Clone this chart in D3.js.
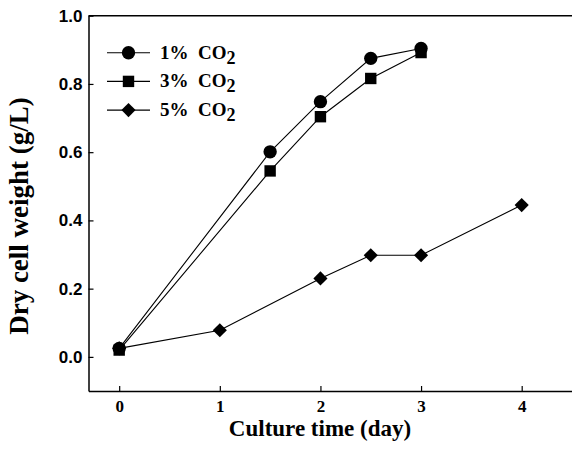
<!DOCTYPE html>
<html>
<head>
<meta charset="utf-8">
<script src="https://cdn.jsdelivr.net/npm/d3@7"></script>
<style>
  body { margin: 0; background: #fff; }
  svg { display: block; }
</style>
</head>
<body>
<div id="chart"></div>
<script>
// data
var days_1 = [0, 1.5, 2, 2.5, 3];
var co2_1 = [0.025, 0.601, 0.748, 0.875, 0.904];
var days_3 = [0, 1.5, 2, 2.5, 3];
var co2_3 = [0.02, 0.545, 0.704, 0.816, 0.892];
var days_5 = [0, 1, 2, 2.5, 3, 4];
var co2_5 = [0.025, 0.078, 0.23, 0.298, 0.298, 0.445];
var seriesNames = ["1% CO", "3% CO", "5% CO"];
var xTicks = [0, 1, 2, 3, 4];
var yTicks = [0.0, 0.2, 0.4, 0.6, 0.8, 1.0];

var margin = { top: 15.7, right: 0, bottom: 70, left: 88.5 };
var width = 572 - margin.left - margin.right;
var height = 461 - margin.top - margin.bottom;

var svg = d3
  .select("#chart")
  .append("svg")
  .attr("width", 572)
  .attr("height", 461);

var g = svg
  .append("g")
  .attr("transform", "translate(" + margin.left + "," + margin.top + ")");

var x = d3.scaleLinear().domain([-0.305, 4.5]).range([0, width]);
var y = d3.scaleLinear().domain([-0.1, 1.0]).range([height, 0]);

// frame: top line, left and bottom axes
g.append("line")
  .attr("x1", 0).attr("x2", width)
  .attr("y1", 0).attr("y2", 0)
  .attr("stroke", "#000").attr("stroke-width", 1.5);

var xAxis = g
  .append("g")
  .attr("transform", "translate(0," + height + ")")
  .call(d3.axisBottom(x).tickValues(xTicks).tickSizeInner(-5).tickSizeOuter(0).tickFormat(d3.format("d")));

xAxis.select(".domain").attr("stroke-width", 1.5);
xAxis.selectAll(".tick line").attr("stroke-width", 1.2);
xAxis
  .selectAll(".tick text")
  .attr("y", 9)
  .attr("dy", "0.71em")
  .style("font-family", "'Liberation Serif', 'Times New Roman', serif")
  .style("font-weight", "bold")
  .style("font-size", "17px");

var yAxis = g
  .append("g")
  .call(d3.axisLeft(y).tickValues(yTicks).tickSizeInner(-5).tickSizeOuter(0).tickFormat(d3.format(".1f")));

yAxis.select(".domain").attr("stroke-width", 1.5);
yAxis.selectAll(".tick line").attr("stroke-width", 1.2);
yAxis
  .selectAll(".tick text")
  .attr("x", -6)
  .style("font-family", "'Liberation Sans', Arial, sans-serif")
  .style("font-weight", "bold")
  .style("font-size", "17px");

// axis titles
svg
  .append("text")
  .attr("x", 320)
  .attr("y", 436)
  .attr("text-anchor", "middle")
  .style("font-family", "'Liberation Serif', 'Times New Roman', serif")
  .style("font-weight", "bold")
  .style("font-size", "23px")
  .text("Culture time (day)");

svg
  .append("text")
  .attr("transform", "translate(28,216) rotate(-90)")
  .attr("text-anchor", "middle")
  .style("font-family", "'Liberation Serif', 'Times New Roman', serif")
  .style("font-weight", "bold")
  .style("font-size", "27px")
  .text("Dry cell weight (g/L)");

// series (diamond = square turned 45 degrees)
var series = [
  { name: seriesNames[0], days: days_1, vals: co2_1, symbol: d3.symbolCircle, size: 140, rot: 0 },
  { name: seriesNames[1], days: days_3, vals: co2_3, symbol: d3.symbolSquare, size: 130, rot: 0 },
  { name: seriesNames[2], days: days_5, vals: co2_5, symbol: d3.symbolSquare, size: 100, rot: 45 }
];

var line = d3
  .line()
  .x(function (d) { return x(d[0]); })
  .y(function (d) { return y(d[1]); });

series.forEach(function (s) {
  var pts = s.days.map(function (d, i) { return [d, s.vals[i]]; });
  g.append("path")
    .attr("d", line(pts))
    .attr("fill", "none")
    .attr("stroke", "#000")
    .attr("stroke-width", 1.1);
  g.selectAll(null)
    .data(pts)
    .enter()
    .append("path")
    .attr("transform", function (d) {
      return "translate(" + x(d[0]) + "," + y(d[1]) + ") rotate(" + s.rot + ")";
    })
    .attr("d", d3.symbol().type(s.symbol).size(s.size))
    .attr("fill", "#000");
});

// legend
var legend = svg.append("g").attr("transform", "translate(107,52.7)");

series.forEach(function (s, i) {
  var row = legend.append("g").attr("transform", "translate(0," + i * 28.7 + ")");
  row.append("line")
    .attr("x1", 0).attr("x2", 43)
    .attr("y1", 0).attr("y2", 0)
    .attr("stroke", "#000").attr("stroke-width", 1.1);
  row.append("path")
    .attr("transform", "translate(21.5,0) rotate(" + s.rot + ")")
    .attr("d", d3.symbol().type(s.symbol).size(s.size))
    .attr("fill", "#000");
  var t = row.append("text")
    .attr("x", 53)
    .attr("y", 6)
    .style("font-family", "'Liberation Serif', 'Times New Roman', serif")
    .style("font-weight", "bold")
    .style("font-size", "19px")
    .attr("xml:space", "preserve");
  t.append("tspan").text(s.name.replace(" ", "  "));
  t.append("tspan").attr("dy", 5).style("font-size", "18px").text("2");
});
</script>
</body>
</html>
